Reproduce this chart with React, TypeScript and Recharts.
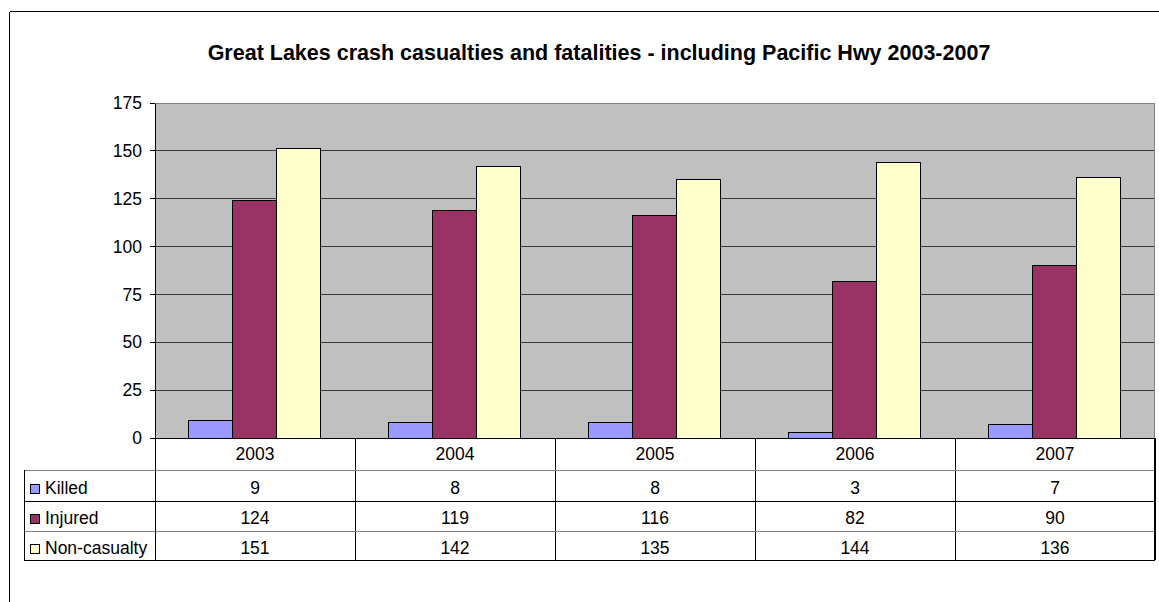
import React from "react";
import { BarChart, Bar, XAxis, YAxis, CartesianGrid } from "recharts";

// Crash counts by year, Great Lakes area incl. Pacific Hwy
const years = ["2003", "2004", "2005", "2006", "2007"];
const killed = [9, 8, 8, 3, 7];
const injured = [124, 119, 116, 82, 90];
const nonCasualty = [151, 142, 135, 144, 136];
const yTicks = [0, 25, 50, 75, 100, 125, 150, 175];

const series = [
  { key: "killed", name: "Killed", color: "#9999FF", values: killed },
  { key: "injured", name: "Injured", color: "#993366", values: injured },
  { key: "nonCasualty", name: "Non-casualty", color: "#FFFFCC", values: nonCasualty },
];

const data = years.map((year, i) => ({
  year,
  killed: killed[i],
  injured: injured[i],
  nonCasualty: nonCasualty[i],
}));

const W = 1159;
const H = 602;
const PLOT_L = 155;
const PLOT_R = 1155;
const PLOT_T = 103;
const PLOT_B = 438;
const TABLE_B = 560;
const TABLE_L = 24;
const ROW_LINES = [470, 501, 531, 560];
const FS = 17.5;
// text baselines for the header row and the three series rows
const HEADER_BASE = 460;
const ROW_BASES = [494, 524, 553.5];
const KEY_TOPS = [484, 514, 544];
const FONT = "'Liberation Sans', Arial, Helvetica, sans-serif";

const TableColumn = (props: any) => {
  const { x, payload } = props;
  const i = payload.index;
  const half = (PLOT_R - PLOT_L) / years.length / 2;
  return (
    <g>
      <text x={x} y={HEADER_BASE} textAnchor="middle" fontFamily={FONT} fontSize={FS} fill="#000">
        {payload.value}
      </text>
      {series.map((s, r) => (
        <text
          key={s.key}
          x={x}
          y={ROW_BASES[r]}
          textAnchor="middle"
          fontFamily={FONT}
          fontSize={FS}
          fill="#000"
        >
          {s.values[i]}
        </text>
      ))}
      <line x1={x + half} x2={x + half} y1={PLOT_B} y2={TABLE_B} stroke="#000" strokeWidth={1} />
    </g>
  );
};

export default function App() {
  return (
    <div
      style={{
        position: "absolute",
        left: 0,
        top: 0,
        width: W,
        height: H,
        background: "#fff",
        shapeRendering: "crispEdges",
      }}
    >
      <BarChart
        width={W}
        height={H}
        data={data}
        margin={{ top: PLOT_T, right: W - PLOT_R, left: PLOT_L - 70, bottom: H - TABLE_B }}
        barCategoryGap="16.667%"
        barGap={0}
      >
        <CartesianGrid vertical={false} fill="#C0C0C0" stroke="#3a3a3a" strokeWidth={1} />
        <XAxis
          dataKey="year"
          height={TABLE_B - PLOT_B}
          tickLine={false}
          tickSize={0}
          axisLine={{ stroke: "#000" }}
          tick={<TableColumn />}
          interval={0}
        />
        <YAxis
          width={70}
          domain={[0, 175]}
          ticks={yTicks}
          interval={0}
          tickSize={5}
          tickMargin={8}
          axisLine={{ stroke: "#000" }}
          tickLine={{ stroke: "#000" }}
          tick={{ fill: "#000", fontSize: FS, fontFamily: FONT }}
        />
        {series.map((s) => (
          <Bar
            key={s.key}
            dataKey={s.key}
            name={s.name}
            fill={s.color}
            stroke="#000"
            strokeWidth={1}
            isAnimationActive={false}
          />
        ))}
      </BarChart>
      <svg
        width={W}
        height={H}
        style={{ position: "absolute", left: 0, top: 0, pointerEvents: "none" }}
      >
        {/* chart frame */}
        <line x1={9.5} x2={W} y1={11.5} y2={11.5} stroke="#000" />
        <line x1={9.5} x2={9.5} y1={11.5} y2={H} stroke="#000" />
        {/* title */}
        <text
          x={599}
          y={60}
          textAnchor="middle"
          fontFamily={FONT}
          fontSize={21.5}
          fontWeight="bold"
          fill="#000"
        >
          Great Lakes crash casualties and fatalities - including Pacific Hwy 2003-2007
        </text>
        {/* plot area border */}
        <line x1={PLOT_L} x2={PLOT_R} y1={PLOT_T + 0.5} y2={PLOT_T + 0.5} stroke="#808080" />
        <line x1={PLOT_R - 0.5} x2={PLOT_R - 0.5} y1={PLOT_T} y2={PLOT_B} stroke="#808080" />
        {/* data table grid */}
        {ROW_LINES.map((y, r) => (
          <line
            key={y}
            x1={TABLE_L}
            x2={PLOT_R}
            y1={y + 0.5}
            y2={y + 0.5}
            stroke={r % 2 === 0 ? "#808080" : "#000"}
          />
        ))}
        <line x1={TABLE_L + 0.5} x2={TABLE_L + 0.5} y1={ROW_LINES[0]} y2={TABLE_B} stroke="#000" />
        <line x1={PLOT_L + 0.5} x2={PLOT_L + 0.5} y1={PLOT_B} y2={TABLE_B} stroke="#000" />
        <line x1={PLOT_R - 0.5} x2={PLOT_R - 0.5} y1={PLOT_B} y2={TABLE_B} stroke="#000" />
        {/* series keys */}
        {series.map((s, r) => (
          <g key={s.key}>
            <rect x={30.5} y={KEY_TOPS[r] + 0.5} width={9} height={9} fill={s.color} stroke="#000" />
            <text x={45} y={ROW_BASES[r]} fontFamily={FONT} fontSize={FS} fill="#000">
              {s.name}
            </text>
          </g>
        ))}
      </svg>
    </div>
  );
}
